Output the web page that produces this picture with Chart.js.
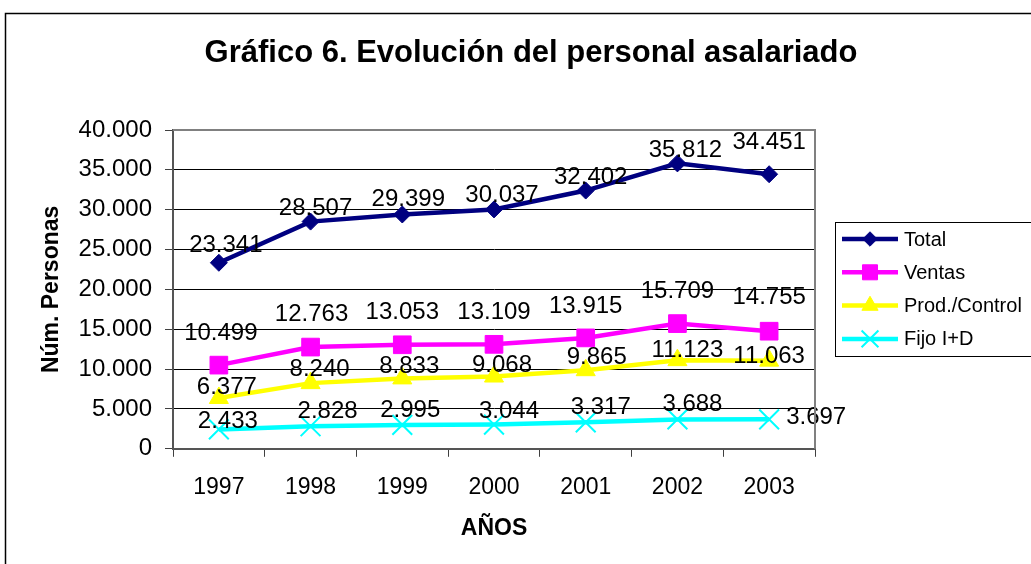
<!DOCTYPE html>
<html>
<head>
<meta charset="utf-8">
<title>Gráfico 6</title>
<script src="https://cdn.jsdelivr.net/npm/chart.js@4/dist/chart.umd.min.js"></script>
<style>
  html, body { margin: 0; padding: 0; background: #fff; overflow: hidden; }
</style>
</head>
<body>
<canvas id="grafico" width="1031" height="564"></canvas>
<script>
// datos
const YEARS = ['1997', '1998', '1999', '2000', '2001', '2002', '2003'];
const TOTAL = [23341, 28507, 29399, 30037, 32402, 35812, 34451];
const VENTAS = [10499, 12763, 13053, 13109, 13915, 15709, 14755];
const PROD_CONTROL = [6377, 8240, 8833, 9068, 9865, 11123, 11063];
const FIJO_ID = [2433, 2828, 2995, 3044, 3317, 3688, 3697];
const Y_TICKS = [0, 5000, 10000, 15000, 20000, 25000, 30000, 35000, 40000];

const TITLE = 'Gráfico 6. Evolución del personal asalariado';
const FONT = "'Liberation Sans', Arial, sans-serif";

// desplazamiento de cada etiqueta de valor respecto a su punto [dx, dy]
const LABEL_OFFSETS = [
  [[7, -17], [5, -13], [6, -15], [8, -14], [5, -13], [8, -13], [0, -32]],
  [[2, -32], [1, -33], [0, -32], [0, -32], [0, -32], [0, -32], [0, -34]],
  [[8, -11], [9, -14], [7, -12], [8, -11], [11, -13], [10, -10], [0, -4]],
  [[9, -8], [17, -15], [8, -15], [15, -13], [15, -15], [15, -15], [17, -2, 'left']]
];

const fmt = v => String(v).replace(/\B(?=(\d{3})+(?!\d))/g, '.');

const mkSerie = (label, data, color, style, radius, bw) => ({
  label,
  data,
  borderColor: color,
  backgroundColor: color,
  borderWidth: 4.5,
  tension: 0,
  pointStyle: style,
  pointRadius: radius,
  pointHoverRadius: radius,
  pointBackgroundColor: color,
  pointBorderColor: color,
  pointBorderWidth: bw
});

// marco exterior y titulo
const marco = {
  id: 'marco',
  beforeDraw(chart) {
    const ctx = chart.ctx;
    ctx.save();
    ctx.strokeStyle = '#000';
    ctx.lineWidth = 1.5;
    ctx.strokeRect(5.5, 13.5, 1052, 600);
    ctx.fillStyle = '#000';
    ctx.font = 'bold 31px ' + FONT;
    ctx.textAlign = 'center';
    ctx.textBaseline = 'middle';
    ctx.fillText(TITLE, (5 + 1057) / 2, 53);
    ctx.restore();
  },
  afterDraw(chart) {
    const {ctx, chartArea} = chart;
    ctx.save();
    ctx.strokeStyle = '#808080';
    ctx.lineWidth = 2;
    ctx.beginPath();
    ctx.moveTo(chartArea.left, chartArea.top);
    ctx.lineTo(chartArea.right, chartArea.top);
    ctx.lineTo(chartArea.right, chartArea.bottom);
    ctx.stroke();
    ctx.restore();
  }
};

const etiquetas = {
  id: 'etiquetas',
  afterDatasetsDraw(chart) {
    const ctx = chart.ctx;
    ctx.save();
    ctx.font = '24px ' + FONT;
    ctx.fillStyle = '#000';
    ctx.textBaseline = 'middle';
    chart.data.datasets.forEach((ds, i) => {
      chart.getDatasetMeta(i).data.forEach((pt, j) => {
        const off = LABEL_OFFSETS[i][j];
        ctx.textAlign = off[2] || 'center';
        ctx.fillText(fmt(ds.data[j]), pt.x + off[0], pt.y + off[1]);
      });
    });
    ctx.restore();
  }
};

const leyenda = {
  id: 'leyenda',
  afterDraw(chart) {
    const {ctx, chartArea} = chart;
    const left = chartArea.right + 20;
    const h = 134;
    const top = Math.round((chartArea.top + chartArea.bottom) / 2 - h / 2);
    ctx.save();
    ctx.strokeStyle = '#000';
    ctx.lineWidth = 1;
    ctx.strokeRect(left + 0.5, top + 0.5, 300, h);
    chart.data.datasets.forEach((ds, i) => {
      const y = top + 17 + i * 33.3;
      ctx.strokeStyle = ds.borderColor;
      ctx.lineWidth = ds.borderWidth;
      ctx.beginPath();
      ctx.moveTo(left + 7, y);
      ctx.lineTo(left + 63, y);
      ctx.stroke();
      ctx.fillStyle = ds.pointBackgroundColor;
      ctx.strokeStyle = ds.pointBorderColor;
      ctx.lineWidth = ds.pointBorderWidth;
      Chart.helpers.drawPoint(ctx, {
        pointStyle: ds.pointStyle,
        radius: ds.pointRadius * 0.85,
        rotation: 0,
        borderWidth: ds.pointBorderWidth
      }, left + 35, y);
      ctx.fillStyle = '#000';
      ctx.font = '20px ' + FONT;
      ctx.textAlign = 'left';
      ctx.textBaseline = 'middle';
      ctx.fillText(ds.label, left + 69, y + 1);
    });
    ctx.restore();
  }
};

new Chart(document.getElementById('grafico'), {
  type: 'line',
  data: {
    labels: YEARS,
    datasets: [
      mkSerie('Total', TOTAL, '#000080', 'rectRot', 8.5, 1),
      mkSerie('Ventas', VENTAS, '#FF00FF', 'rect', 12.5, 1),
      mkSerie('Prod./Control', PROD_CONTROL, '#FFFF00', 'triangle', 11, 1),
      mkSerie('Fijo I+D', FIJO_ID, '#00FFFF', 'crossRot', 14, 2)
    ]
  },
  options: {
    responsive: false,
    animation: false,
    layout: { padding: { top: 130, left: 10, right: 216, bottom: 18 } },
    plugins: {
      legend: { display: false },
      title: { display: false },
      tooltip: { enabled: false }
    },
    scales: {
      x: {
        offset: true,
        grid: {
          display: true,
          drawOnChartArea: false,
          drawTicks: true,
          tickLength: 8,
          tickColor: '#404040',
          offset: true
        },
        border: { display: true, color: '#555', width: 2 },
        ticks: { color: '#000', font: { family: FONT, size: 23 }, padding: 17, maxRotation: 0 },
        title: {
          display: true,
          text: 'AÑOS',
          color: '#000',
          font: { family: FONT, size: 23, weight: 'bold' },
          padding: { top: -4, bottom: 4 }
        }
      },
      y: {
        min: 0,
        max: 40000,
        afterBuildTicks: scale => { scale.ticks = Y_TICKS.map(v => ({ value: v })); },
        grid: {
          color: c => (c.tick && c.tick.value === 40000 ? '#808080' : '#000'),
          lineWidth: 1,
          tickLength: 8,
          tickColor: '#404040'
        },
        border: { display: true, color: '#555', width: 2 },
        ticks: {
          color: '#000',
          font: { family: FONT, size: 24 },
          padding: 13,
          callback: v => fmt(v)
        },
        title: {
          display: true,
          text: 'Núm. Personas',
          color: '#000',
          font: { family: FONT, size: 23, weight: 'bold' },
          padding: { top: 28, bottom: 0 }
        }
      }
    }
  },
  plugins: [marco, etiquetas, leyenda]
});
</script>
</body>
</html>
